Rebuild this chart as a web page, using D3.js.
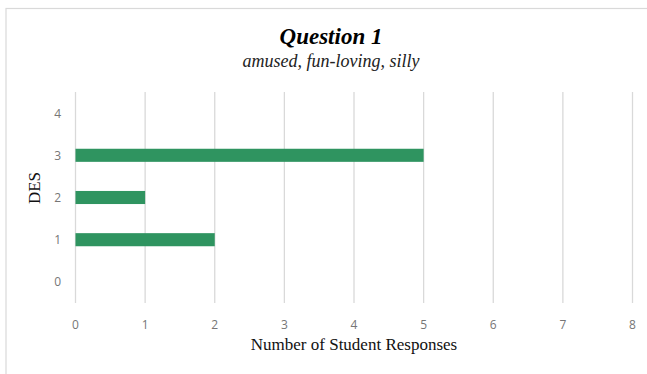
<!DOCTYPE html>
<html>
<head>
<meta charset="utf-8">
<script src="https://cdn.jsdelivr.net/npm/d3@7"></script>
<style>
  html, body { margin: 0; padding: 0; background: #fff; }
  svg { display: block; }
</style>
</head>
<body>
<svg id="chart" width="647" height="374"></svg>
<script>
// DES levels and how many students responded at each level
const categories = [0, 1, 2, 3, 4];
const responses = [0, 2, 1, 5, 0];
const xTicks = [0, 1, 2, 3, 4, 5, 6, 7, 8];
const titleText = "Question 1";
const subtitleText = "amused, fun-loving, silly";
const xTitle = "Number of Student Responses";
const yTitle = "DES";

const svg = d3.select("#chart");

// outer chart frame (only the top and left edges fall inside the window)
svg.append("rect")
  .attr("x", 6).attr("y", 8.5)
  .attr("width", 700).attr("height", 400)
  .attr("fill", "#fff")
  .attr("stroke", "#d9d9d9").attr("stroke-width", 1.2);

const plot = { left: 75.5, right: 632.5, top: 92, bottom: 303 };

const x = d3.scaleLinear().domain([0, 8]).range([plot.left, plot.right]);
const y = d3.scaleBand().domain(categories.slice().reverse())
  .range([plot.top, plot.bottom]).paddingInner(0.69).paddingOuter(0.345);

// vertical gridlines
svg.append("g").selectAll("line").data(xTicks).join("line")
  .attr("x1", d => x(d)).attr("x2", d => x(d))
  .attr("y1", plot.top).attr("y2", plot.bottom)
  .attr("stroke", "#d9d9d9").attr("stroke-width", 1.3);

// bars
svg.append("g").selectAll("rect").data(categories.map((c, i) => ({ c, v: responses[i] })))
  .join("rect")
  .attr("x", x(0))
  .attr("y", d => y(d.c))
  .attr("width", d => x(d.v) - x(0))
  .attr("height", y.bandwidth())
  .attr("fill", "#2f9460");

// x tick labels
const tickFont = "'Open Sans', 'Liberation Sans', sans-serif";
svg.append("g").selectAll("text").data(xTicks).join("text")
  .attr("x", d => x(d)).attr("y", 329)
  .attr("text-anchor", "middle")
  .attr("font-family", tickFont).attr("font-size", 12)
  .attr("fill", "#767676")
  .text(d => d);

// y tick labels
svg.append("g").selectAll("text").data(categories).join("text")
  .attr("x", 61).attr("y", d => y(d) + y.bandwidth() / 2 + 4.5)
  .attr("text-anchor", "end")
  .attr("font-family", tickFont).attr("font-size", 12)
  .attr("fill", "#767676")
  .text(d => d);

const serif = "'Liberation Serif', 'Times New Roman', serif";

// titles
svg.append("text")
  .attr("x", 331).attr("y", 44)
  .attr("text-anchor", "middle")
  .attr("font-family", serif).attr("font-size", 23)
  .attr("font-weight", "bold").attr("font-style", "italic")
  .attr("fill", "#000")
  .text(titleText);

svg.append("text")
  .attr("x", 331).attr("y", 66.5)
  .attr("text-anchor", "middle")
  .attr("font-family", serif).attr("font-size", 18)
  .attr("font-style", "italic")
  .attr("fill", "#222")
  .text(subtitleText);

// axis titles
svg.append("text")
  .attr("x", 354).attr("y", 350)
  .attr("text-anchor", "middle")
  .attr("font-family", serif).attr("font-size", 17)
  .attr("fill", "#111")
  .text(xTitle);

svg.append("text")
  .attr("transform", "translate(39.5,188) rotate(-90)")
  .attr("text-anchor", "middle")
  .attr("font-family", serif).attr("font-size", 17)
  .attr("fill", "#111")
  .text(yTitle);
</script>
</body>
</html>
